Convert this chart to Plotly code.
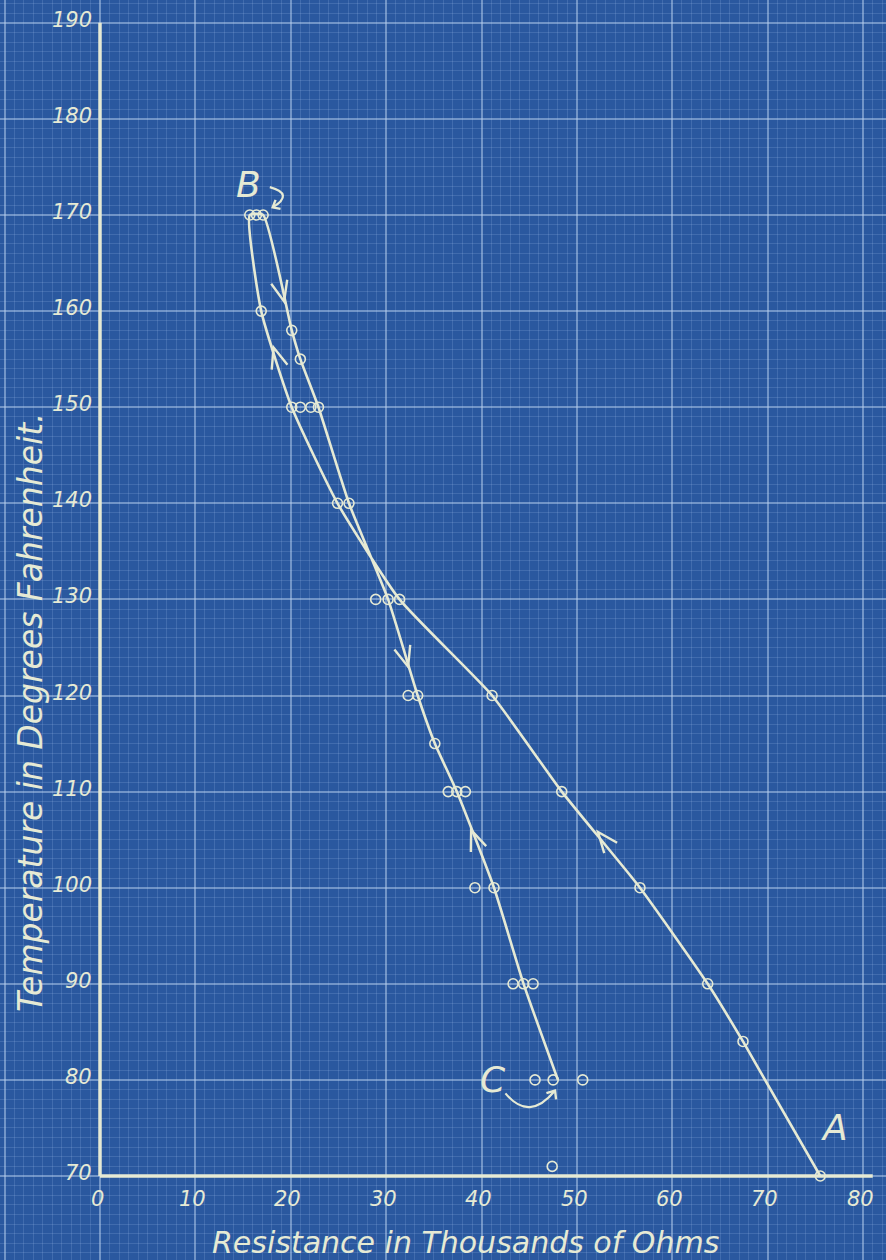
import math
import plotly.graph_objects as go

# ---------------- data (read from the blueprint) ----------------
# all observed readings (open circles)
reading_res = [75.5, 47.4, 45.6, 47.5, 50.6, 67.4, 43.3, 44.4, 45.4, 63.7,
               39.3, 41.3, 56.6, 36.5, 37.4, 38.3, 48.4, 35.1, 32.3, 33.3,
               41.1, 28.9, 30.2, 31.4, 24.9, 26.1, 20.1, 21.0, 22.1, 22.9,
               21.0, 20.1, 16.9, 15.7, 16.4, 17.1]
reading_temp = [70, 71, 80, 80, 80, 84, 90, 90, 90, 90,
                100, 100, 100, 110, 110, 110, 110, 115, 120, 120,
                120, 130, 130, 130, 140, 140, 150, 150, 150, 150,
                155, 158, 160, 170, 170, 170]

# heating curve A -> B
heat_res = [75.5, 67.4, 63.7, 56.6, 48.4, 41.1, 31.4, 24.9, 20.1, 16.9, 15.7]
heat_temp = [70, 84, 90, 100, 110, 120, 130, 140, 150, 160, 170]

# cooling curve B -> C
cool_res = [15.7, 17.1, 20.1, 21.0, 22.9, 26.1, 30.2, 33.3, 35.1, 37.4, 41.3, 44.4, 48.0]
cool_temp = [170, 170, 158, 155, 150, 140, 130, 120, 115, 110, 100, 90, 80]

x_ticks = [0, 10, 20, 30, 40, 50, 60, 70, 80]
y_ticks = [70, 80, 90, 100, 110, 120, 130, 140, 150, 160, 170, 180, 190]

x_title = "Resistance in Thousands of Ohms"
y_title = "Temperature in Degrees Fahrenheit."

# ---------------- styling ----------------
W, H = 886, 1260
BG = "#2a589f"
INK = "#e6ead4"
FONT = "DejaVu Sans"

XMIN, XMAX = -10.482, 82.39
YMIN, YMAX = 61.26, 192.373
kx = W / (XMAX - XMIN)
ky = H / (YMAX - YMIN)

fig = go.Figure()

fig.add_trace(go.Scatter(
    x=heat_res + cool_res[1:], y=heat_temp + cool_temp[1:],
    mode="lines", line=dict(color=INK, width=2.6, shape="spline", smoothing=0.5),
    hoverinfo="skip", showlegend=False))

fig.add_trace(go.Scatter(
    x=reading_res, y=reading_temp, mode="markers",
    marker=dict(symbol="circle-open", size=10, color=INK, line=dict(width=1.6, color=INK)),
    showlegend=False))

shapes = []
# axis lines
shapes.append(dict(type="line", x0=0, x1=0, y0=70, y1=190, xref="x", yref="y",
                   line=dict(color=INK, width=3.5), layer="above"))
shapes.append(dict(type="line", x0=0, x1=81, y0=70, y1=70, xref="x", yref="y",
                   line=dict(color=INK, width=3.5), layer="above"))


def to_px(x, y):
    return ((x - XMIN) * kx, (YMAX - y) * ky)


def to_data(px, py):
    return (XMIN + px / kx, YMAX - py / ky)


def chevron(tip, tail, length=22, spread=22):
    tx, ty = to_px(*tip)
    bx, by = to_px(*tail)
    dx, dy = tx - bx, ty - by
    n = math.hypot(dx, dy)
    dx, dy = dx / n, dy / n
    pts = []
    for s in (-1, 1):
        a = math.radians(spread) * s
        rx = -dx * math.cos(a) + dy * math.sin(a)
        ry = -dy * math.cos(a) - dx * math.sin(a)
        pts.append(to_data(tx + rx * length, ty + ry * length))
    p1, p2 = pts
    return dict(type="path", xref="x", yref="y",
                path=f"M{p1[0]},{p1[1]} L{tip[0]},{tip[1]} L{p2[0]},{p2[1]}",
                line=dict(color=INK, width=2.4), layer="above")


# direction arrows along the curves: (tip, a point behind it on the curve)
arrows = [
    ((19.3, 161.0), (18.4, 164.6)),
    ((32.3, 123.0), (31.4, 126.0)),
    ((38.9, 106.0), (40.0, 103.2)),
    ((52.2, 105.8), (54.6, 102.8)),
    ((18.2, 156.2), (19.0, 153.6)),
]
for tip, tail in arrows:
    shapes.append(chevron(tip, tail))

# curved pointer arrows for labels B and C
shapes.append(dict(type="path", xref="x", yref="y",
                   path="M17.8,172.9 Q20.4,172.2 18.1,170.8",
                   line=dict(color=INK, width=2.2), layer="above"))
shapes.append(chevron((18.1, 170.8), (19.2, 171.4), length=8, spread=40))
shapes.append(dict(type="path", xref="x", yref="y",
                   path="M42.5,78.6 Q45.0,75.6 47.7,78.9",
                   line=dict(color=INK, width=2.2), layer="above"))
shapes.append(chevron((47.7, 78.9), (46.9, 77.7), length=9, spread=40))

annotations = []
tick_font = dict(family=FONT, size=21, color=INK, style="italic")
for v in x_ticks:
    annotations.append(dict(x=v, y=70, xref="x", yref="y", text=str(v), showarrow=False,
                            xanchor="center", yanchor="top", xshift=-3, yshift=-9,
                            font=tick_font))
for v in y_ticks:
    annotations.append(dict(x=0, y=v, xref="x", yref="y", text=str(v), showarrow=False,
                            xanchor="right", yanchor="middle", xshift=-6, yshift=3,
                            font=tick_font))

annotations.append(dict(x=to_data(465, 0)[0], y=to_data(0, 1242)[1], xref="x", yref="y",
                        text=x_title, showarrow=False, xanchor="center", yanchor="middle",
                        font=dict(family=FONT, size=30, color=INK, style="italic")))
annotations.append(dict(x=to_data(30, 0)[0], y=to_data(0, 712)[1], xref="x", yref="y",
                        text=y_title, textangle=-90, showarrow=False,
                        xanchor="center", yanchor="middle",
                        font=dict(family=FONT, size=33, color=INK, style="italic")))

label_font = dict(family=FONT, size=36, color=INK, style="italic")
for txt, x, y in [("A", 77.0, 75.0), ("B", 15.6, 173.2), ("C", 41.2, 80.0)]:
    annotations.append(dict(x=x, y=y, xref="x", yref="y", text=txt, showarrow=False,
                            xanchor="center", yanchor="middle", font=label_font))

fig.update_layout(
    width=W, height=H, margin=dict(l=0, r=0, t=0, b=0),
    paper_bgcolor=BG, plot_bgcolor=BG,
    xaxis=dict(range=[XMIN, XMAX], tick0=0, dtick=10, showgrid=True,
               gridcolor="rgba(185,210,240,0.5)", gridwidth=1.6,
               showticklabels=False, zeroline=False, ticks="",
               minor=dict(dtick=1, showgrid=True, gridcolor="rgba(160,190,235,0.2)", gridwidth=1)),
    yaxis=dict(range=[YMIN, YMAX], tick0=0, dtick=10, showgrid=True,
               gridcolor="rgba(185,210,240,0.5)", gridwidth=1.6,
               showticklabels=False, zeroline=False, ticks="",
               minor=dict(dtick=1, showgrid=True, gridcolor="rgba(160,190,235,0.2)", gridwidth=1)),
    shapes=shapes, annotations=annotations,
)

fig.write_html("out.html", config={"displayModeBar": False},
               post_script="document.body.style.margin='0px';document.body.style.overflow='hidden';")
